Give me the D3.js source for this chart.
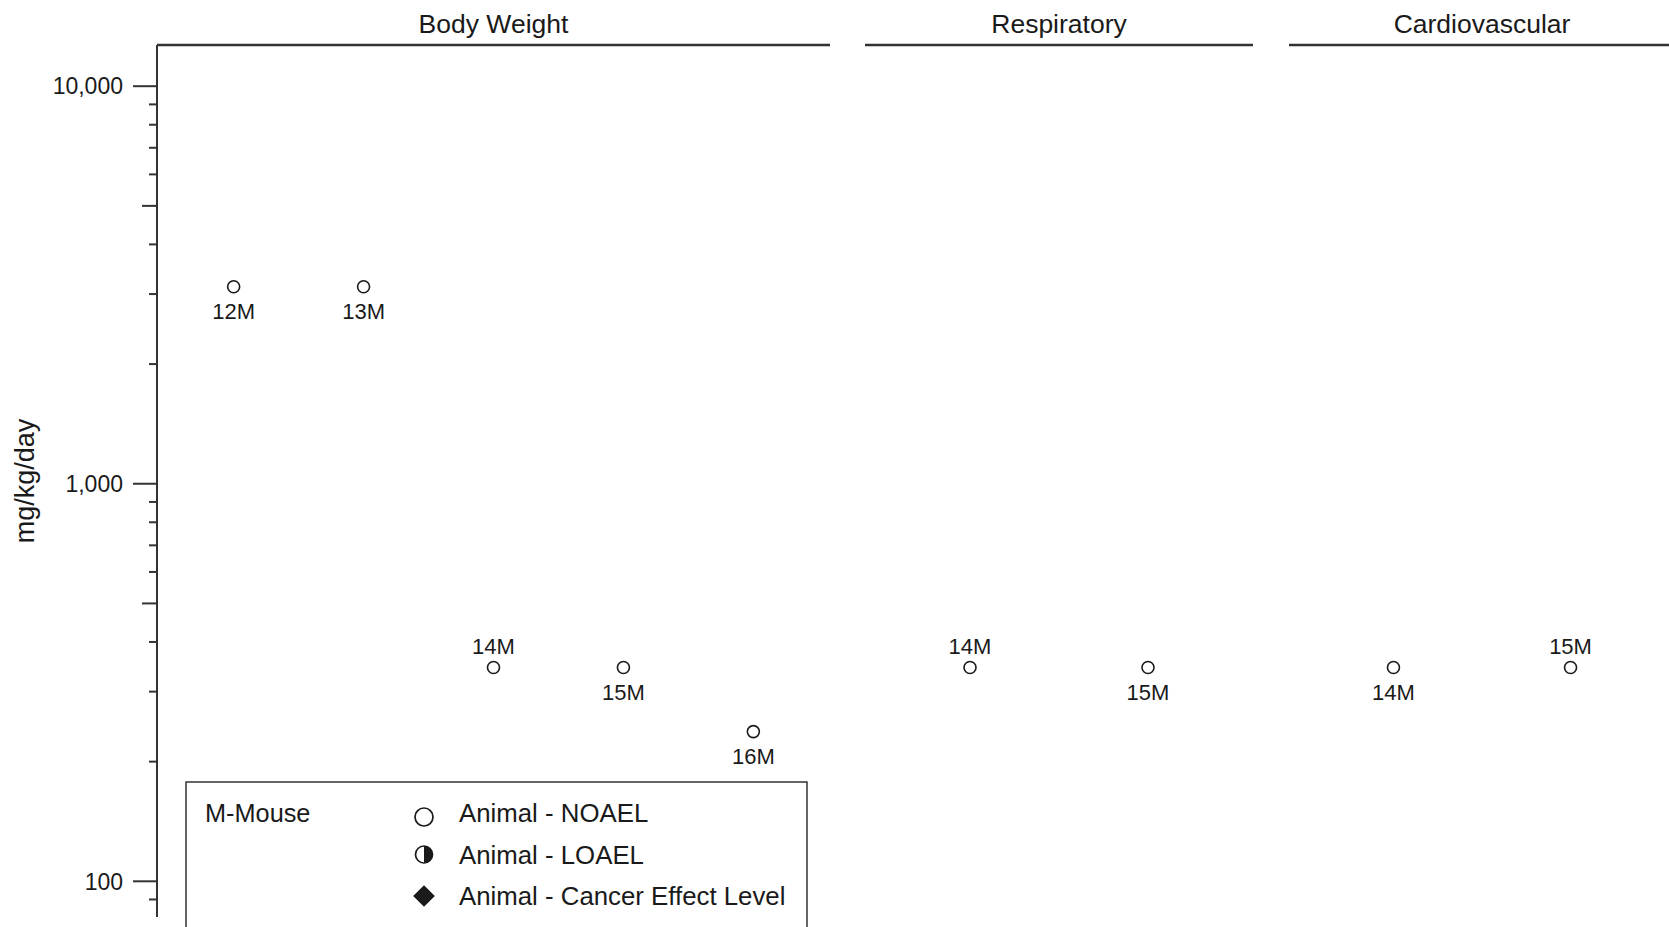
<!DOCTYPE html>
<html>
<head>
<meta charset="utf-8">
<script src="https://cdn.jsdelivr.net/npm/d3@7"></script>
<style>
  html, body { margin: 0; padding: 0; background: #fff; }
  svg { display: block; }
  text { font-family: "Liberation Sans", Arial, sans-serif; fill: #1a1a1a; }
</style>
</head>
<body>
<svg id="chart" width="1669" height="927"></svg>
<script>
// Endpoint groups shown as columns of panels
const panels = ["Body Weight", "Respiratory", "Cardiovascular"];

// One entry per plotted study point
const pointPanel = ["Body Weight", "Body Weight", "Body Weight", "Body Weight", "Body Weight",
                    "Respiratory", "Respiratory",
                    "Cardiovascular", "Cardiovascular"];
const pointLabel = ["12M", "13M", "14M", "15M", "16M", "14M", "15M", "14M", "15M"];
const pointDose  = [3130, 3130, 345, 345, 238, 345, 345, 345, 345];   // mg/kg/day
const pointType  = ["NOAEL", "NOAEL", "NOAEL", "NOAEL", "NOAEL", "NOAEL", "NOAEL", "NOAEL", "NOAEL"];
const labelSide  = ["below", "below", "above", "below", "below", "above", "below", "below", "above"];

// Y axis ticks
const majorTicks = [100, 1000, 10000];
const majorTickLabels = ["100", "1,000", "10,000"];
const minorTicks = [90, 200, 300, 400, 500, 600, 700, 800, 900,
                    2000, 3000, 4000, 5000, 6000, 7000, 8000, 9000];

// Legend
const legendSpecies = "M-Mouse";
const legendKeys = ["NOAEL", "LOAEL", "CEL"];
const legendLabels = ["Animal - NOAEL", "Animal - LOAEL", "Animal - Cancer Effect Level"];

// ---- layout ----
const svg = d3.select("#chart");
const axisX = 157;
const frameTop = 45;
const axisBottom = 917;
const panelExtent = {
  "Body Weight": [157, 830],
  "Respiratory": [865, 1253],
  "Cardiovascular": [1289, 1675]
};
const ink = "#1a1a1a";
const lineInk = "#333";

const y = d3.scaleLog().domain([100, 10000]).range([881.3, 86.2]);

// Y axis line
svg.append("line")
  .attr("x1", axisX).attr("x2", axisX)
  .attr("y1", frameTop).attr("y2", axisBottom)
  .attr("stroke", lineInk).attr("stroke-width", 2);

// minor ticks (x5 ticks drawn a little longer)
svg.append("g").selectAll("line").data(minorTicks).join("line")
  .attr("x1", d => axisX - (String(d)[0] === "5" ? 15 : 8))
  .attr("x2", axisX)
  .attr("y1", d => y(d)).attr("y2", d => y(d))
  .attr("stroke", lineInk).attr("stroke-width", 2);

// major ticks and labels
const maj = svg.append("g");
maj.selectAll("line").data(majorTicks).join("line")
  .attr("x1", axisX - 24).attr("x2", axisX)
  .attr("y1", d => y(d)).attr("y2", d => y(d))
  .attr("stroke", lineInk).attr("stroke-width", 2);
maj.selectAll("text").data(majorTicks).join("text")
  .attr("x", axisX - 34)
  .attr("y", d => y(d))
  .attr("dy", "0.36em")
  .attr("text-anchor", "end")
  .style("font-size", "23px")
  .text((d, i) => majorTickLabels[i]);

// Y axis title
svg.append("text")
  .attr("transform", "translate(34, 481) rotate(-90)")
  .attr("text-anchor", "middle")
  .style("font-size", "27px")
  .text("mg/kg/day");

// Panels: header rule, title, points
panels.forEach(p => {
  const [x0, x1] = panelExtent[p];
  const g = svg.append("g");
  g.append("line")
    .attr("x1", x0).attr("x2", x1)
    .attr("y1", frameTop).attr("y2", frameTop)
    .attr("stroke", lineInk).attr("stroke-width", 2.5);
  g.append("text")
    .attr("x", (x0 + x1) / 2).attr("y", 33)
    .attr("text-anchor", "middle")
    .style("font-size", "26.5px")
    .text(p);

  const idx = d3.range(pointLabel.length).filter(i => pointPanel[i] === p);
  const x = d3.scalePoint().domain(idx).range([x0, x1]).padding(0.59);

  g.selectAll("circle").data(idx).join("circle")
    .attr("cx", i => x(i)).attr("cy", i => y(pointDose[i]))
    .attr("r", 6)
    .attr("fill", "#fff")
    .attr("stroke", ink).attr("stroke-width", 1.6);

  g.selectAll("text.pt").data(idx).join("text")
    .attr("class", "pt")
    .attr("x", i => x(i))
    .attr("y", i => y(pointDose[i]) + (labelSide[i] === "above" ? -13.5 : 32.5))
    .attr("text-anchor", "middle")
    .style("font-size", "22px")
    .text(i => pointLabel[i]);
});

// Legend
const lg = svg.append("g");
lg.append("rect")
  .attr("x", 186).attr("y", 782)
  .attr("width", 621).attr("height", 170)
  .attr("fill", "#fff")
  .attr("stroke", lineInk).attr("stroke-width", 1.5);
lg.append("text")
  .attr("x", 205).attr("y", 822)
  .style("font-size", "25.3px")
  .text(legendSpecies);

const rowY = d3.scalePoint().domain(legendKeys).range([813, 896]);
const symX = 424;
legendKeys.forEach((k, i) => {
  const cy = rowY(k);
  if (k === "NOAEL") {
    lg.append("circle").attr("cx", symX).attr("cy", cy + 4).attr("r", 9)
      .attr("fill", "#fff").attr("stroke", ink).attr("stroke-width", 1.7);
  } else if (k === "LOAEL") {
    lg.append("circle").attr("cx", symX).attr("cy", cy).attr("r", 8.5)
      .attr("fill", "#fff").attr("stroke", ink).attr("stroke-width", 1.7);
    lg.append("path")
      .attr("d", d3.arc()({innerRadius: 0, outerRadius: 8.5, startAngle: 0, endAngle: Math.PI}))
      .attr("transform", `translate(${symX},${cy})`)
      .attr("fill", ink);
  } else {
    lg.append("path")
      .attr("d", d3.symbol(d3.symbolDiamond2, 300)())
      .attr("transform", `translate(${symX},${cy})`)
      .attr("fill", ink);
  }
  lg.append("text")
    .attr("x", 459).attr("y", cy)
    .attr("dy", "0.36em")
    .style("font-size", "25.8px")
    .text(legendLabels[i]);
});
</script>
</body>
</html>
